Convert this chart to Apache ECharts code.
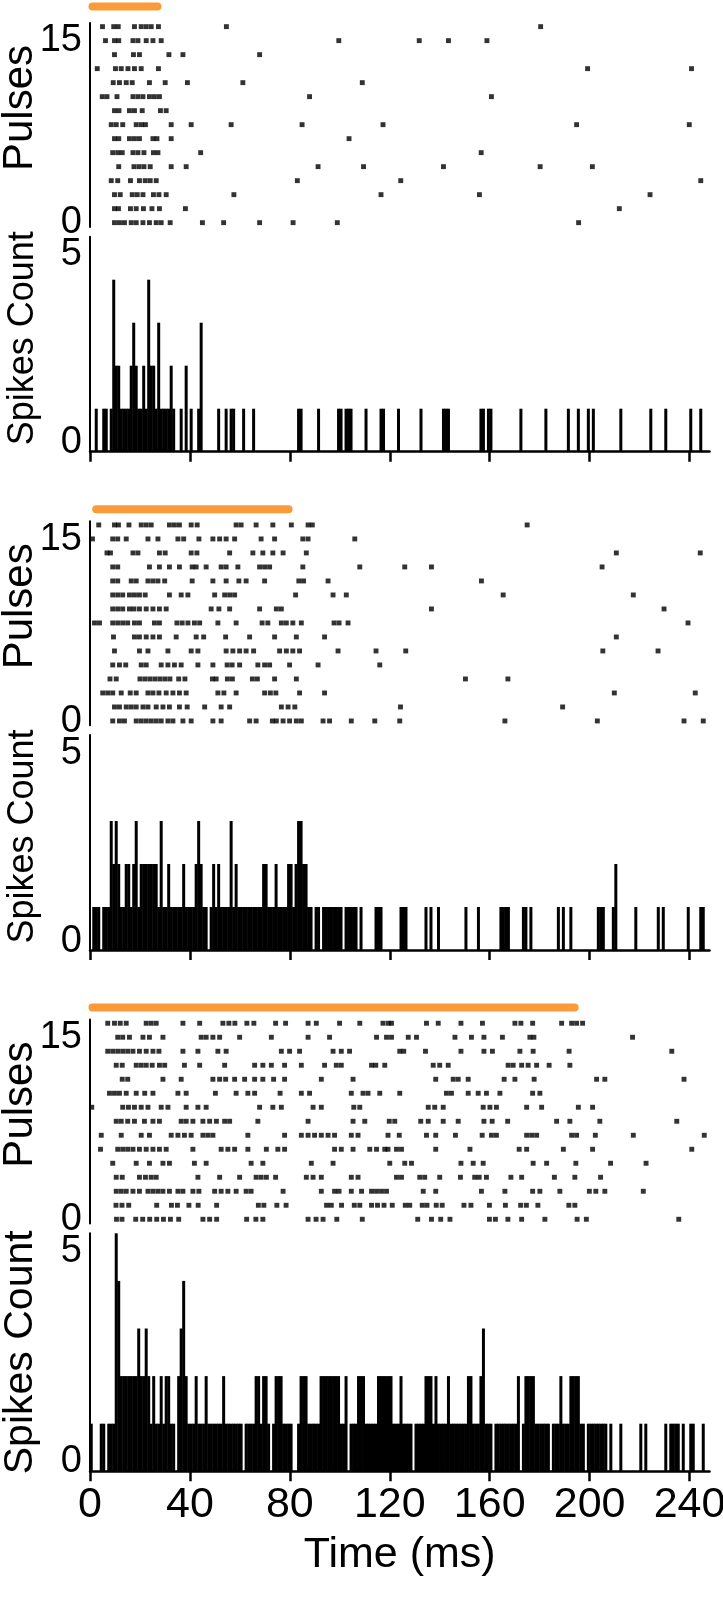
<!DOCTYPE html>
<html><head><meta charset="utf-8">
<script src="https://cdn.jsdelivr.net/npm/echarts@6/dist/echarts.min.js"></script>
<style>html,body{margin:0;padding:0;background:#fff}#c{width:723px;height:1599px}</style>
</head><body><div id="c"></div>
<script>
// ---- tick labels ----
const timeTicks = [0, 40, 80, 120, 160, 200, 240];
const pulseTicks = [0, 15];
const countTicks = [0, 5];

// ---- stimulus durations (ms) ----
const stim1 = [1, 27];
const stim2 = [2.5, 79.5];
const stim3 = [1, 194];

// ---- raster spike times (ms), row 0 = bottom pulse ----
const raster1 = [
  [9.8, 11.8, 13.8, 16.5, 18.5, 21.2, 23.8, 26.5, 28.5, 32.1, 45, 53.5, 67.9, 81.3, 99, 195.6],
  [9.8, 11.4, 16.2, 18.5, 21.4, 24.8, 27.8, 38.2, 211.9],
  [9.8, 12.1, 16.9, 18.9, 21.2, 25.4, 27.6, 30.5, 57.6, 116.5, 155.9, 224.2],
  [8.5, 11.1, 16.2, 19.8, 22.1, 24.1, 26.5, 83, 124.4, 244.5],
  [11.5, 17.6, 19.6, 21.6, 24.1, 32.5, 38.5, 91.3, 109.5, 141.5, 180.2, 201.1],
  [9.1, 11.1, 12.9, 17.2, 19.2, 21.6, 25.4, 27.2, 44.3, 156.6],
  [9.8, 11.5, 15.8, 17.8, 19.8, 25.2, 26.8, 32.5, 103.7],
  [8.5, 10.5, 13.1, 18.5, 20.5, 22.2, 32.5, 40.5, 56.5, 84.9, 117.3, 194.8, 239.9],
  [9.8, 11.6, 15.8, 17.8, 20.9, 28.2, 30.5],
  [4.9, 6.8, 10.8, 17.2, 19.2, 21.2, 23.8, 25.8, 27.8, 87.9, 160.7],
  [9.3, 11.8, 14.5, 16.9, 23.8, 30.1, 39, 61.2, 109],
  [2.9, 10.2, 12.5, 15.2, 17.8, 20.5, 27.4, 199.2, 240.8],
  [9.8, 17.4, 19.8, 31.6, 37.2, 67.9],
  [6.2, 9.8, 11.5, 17.2, 19.2, 22.5, 25.2, 28.5, 99.6, 131.8, 143.5, 158.9],
  [5, 9.5, 11.3, 17.8, 20.5, 22.5, 24.5, 27.4, 54.6, 180.4]
];
const raster2 = [
  [9.1, 11.8, 13.8, 18.5, 20.5, 22.5, 24.5, 26.5, 28.5, 31.2, 33.2, 37.2, 40.5, 49.2, 52.5, 63.9, 66.5, 73, 74.6, 77.3, 79.9, 82.6, 84.6, 93.3, 95.9, 104.6, 114, 124, 166.1, 203.1, 237.8, 245.5],
  [9.8, 11.8, 14.5, 16.5, 18.5, 21.2, 23.2, 26.5, 29.2, 31.8, 35.8, 38.9, 45.9, 52.5, 55.9, 76.6, 79.3, 82, 124.3, 189.2],
  [5.1, 7.1, 9.1, 12.5, 16.1, 18.5, 23.2, 25.2, 27.6, 30.5, 33.2, 35.8, 38.5, 51.2, 53.6, 58.5, 69.9, 72.2, 74.4, 83.9, 93.9, 209.9, 242.3],
  [8, 10.5, 20, 22, 24, 26, 28, 30, 32, 35.5, 38, 49, 50.5, 55, 57, 65, 67, 73.9, 82.6, 150.3, 167.3],
  [9.1, 11.8, 14.3, 20.5, 22.5, 28.5, 31.2, 33.8, 36.5, 43.2, 49.2, 54.9, 56.9, 59.9, 67.2, 69.9, 71.9, 79.9, 91.3, 116],
  [9.8, 19.8, 23.2, 31.2, 40.5, 43.2, 54.5, 57.2, 59.9, 62.5, 65.5, 75.9, 78.6, 81.2, 83.9, 99.3, 114.5, 126.4, 205.3, 227.4],
  [9.4, 17.8, 19.8, 22.5, 25.2, 27.8, 34.5, 42.5, 45.5, 54.3, 63.9, 73.9, 82.6, 93.9, 210.7],
  [1.8, 3.8, 9.1, 11.1, 13.1, 15.1, 17.8, 19.8, 25.8, 27.8, 34.8, 36.9, 39.2, 41.8, 43.9, 51.2, 58.5, 68.9, 71.2, 76.6, 78.6, 81.2, 84.6, 97.7, 99.7, 103.3, 239.4],
  [9.1, 11.1, 13.1, 15.8, 17.6, 19.8, 22.5, 25.2, 27.8, 30.5, 48.5, 51.6, 55.9, 67.9, 74.6, 76.6, 136.7, 229.8],
  [9.1, 11.1, 13.1, 15.8, 17.8, 19.8, 22.1, 31.8, 36.5, 39.2, 49.9, 53.9, 55.9, 57.9, 82.3, 97.3, 102.6, 165.4, 217.5],
  [9.1, 11.1, 16.5, 18.5, 23.2, 25.2, 27.2, 29.9, 40.9, 49.2, 54.5, 59.6, 62.5, 69.9, 83.6, 85.5, 95.3, 156.7],
  [9.1, 11.1, 23.8, 27.8, 31.8, 35.8, 40.9, 42.5, 46.5, 52.5, 54.5, 59.2, 67.9, 69.9, 71.9, 85.2, 108, 126, 136.7, 205],
  [6.8, 8.2, 17.2, 19.2, 27.8, 30.1, 40.5, 42.8, 55.9, 65.2, 69.2, 73.2, 77.3, 86.6, 210.7, 244.3],
  [1, 9.1, 11.1, 14.5, 23.2, 27.2, 35.2, 37.5, 43.6, 49.2, 51.9, 54.5, 57.9, 68.5, 73.9, 85.2, 87.3, 106],
  [3.5, 9.8, 11.4, 15.6, 20.5, 22.5, 24.5, 31.8, 33.8, 35.8, 40.5, 42.9, 58.5, 60.5, 66.5, 73.2, 80.6, 87.3, 89, 175]
];
const raster3 = [
  [10.6, 12.8, 18.3, 21.1, 23.9, 26.7, 29.4, 32.2, 35.5, 45.2, 47.9, 50.7, 62.7, 66.4, 69.2, 87.3, 90.5, 93.3, 98.8, 109, 131.2, 136.7, 140.4, 144.1, 159.9, 162.3, 167.3, 172.8, 182.1, 195, 198.7, 235.7],
  [10.4, 12.8, 15.5, 26.7, 32.6, 35, 39.6, 43.3, 50.7, 67.4, 69.6, 74.8, 78.5, 94.7, 96.6, 100.7, 105.8, 108, 112.7, 115.1, 117.7, 121, 126.2, 128, 133, 134.9, 138.6, 141, 149.7, 152.5, 159.9, 166.3, 172.4, 174.7, 179.3, 191.7, 194.1],
  [10.5, 12.5, 14.5, 17.2, 19.8, 23.2, 25.2, 27.2, 29.2, 31.8, 35.2, 37.2, 41.2, 43.6, 49.9, 52.5, 55.2, 58.5, 62.5, 64.5, 77.3, 92.6, 97.9, 99.7, 104.6, 108.7, 112.7, 114.7, 116.7, 118.7, 133.4, 138.4, 156.7, 166.1, 177.2, 180.1, 188.1, 199.9, 202.5, 206.1, 221.5],
  [10.5, 12.9, 19.8, 22.2, 24.5, 26.5, 43.2, 51.9, 59.9, 66.5, 68.5, 70.6, 74.3, 86.6, 89.3, 92.6, 104.6, 107.3, 122.7, 124.7, 132, 134, 140, 148.3, 154, 155.8, 158.7, 168.5, 172.8, 185.9, 194.1, 204.4],
  [9.1, 18.5, 23.8, 29.2, 31.8, 41.8, 46.5, 64.5, 69.2, 88.6, 97.3, 120, 126, 128.7, 148.5, 153.4, 157.4, 177.4, 182.8, 194.5, 208.4, 222.6],
  [4.2, 11.1, 13.1, 15.1, 17.2, 19.8, 22.5, 25.2, 27.8, 30.5, 41.2, 52.5, 55.2, 57.9, 63.2, 70.6, 75.2, 77.9, 97.9, 100.6, 105.3, 112, 114.7, 118, 119.3, 122.7, 124.7, 138.4, 152.1, 171.8, 174.8, 189.5, 201.2, 240.9],
  [4.5, 12.5, 20.5, 23.8, 32.5, 35.2, 37.8, 40.5, 45.2, 47.2, 49.2, 63.2, 77.9, 84.6, 87.3, 89.9, 92.6, 95.3, 97.9, 104.6, 107.3, 119.3, 123.8, 134.7, 138.4, 146.3, 157, 160.7, 162.7, 174.8, 176.8, 178.8, 192.8, 194.8, 202.3, 217.5, 245.9],
  [10.5, 12.5, 15.1, 17.8, 21.8, 25.2, 27.8, 36.5, 38.5, 41.2, 45.2, 47.9, 50.6, 53.9, 55.9, 67.2, 87.3, 105.3, 110, 119.8, 122, 132.4, 135.4, 141.4, 147.4, 157.7, 161, 167.2, 186.8, 192.1, 204.1, 234.9],
  [0.7, 13.1, 15.4, 17.8, 20.5, 23.2, 28.5, 31.2, 38.5, 43.2, 46.5, 67.9, 73.2, 76.6, 89.3, 92.6, 105.6, 108, 135.4, 138, 141.4, 157.4, 160.1, 162.7, 174.8, 180.8, 195.5, 201.2],
  [7.8, 9.8, 11.8, 14.5, 18.5, 21.9, 25.2, 35.2, 38.5, 50.2, 58.5, 63.2, 65.9, 76.1, 84.6, 87.9, 104.6, 109.3, 111.3, 116, 124, 142.7, 144.7, 151.4, 155.4, 158.7, 164.1, 177.2, 180.1],
  [12.9, 15.1, 29.2, 36.5, 49.2, 51.9, 54.3, 57.9, 61.9, 65.9, 69.2, 73.5, 77.9, 92.6, 105.3, 138.4, 145.4, 147.4, 151.4, 165.8, 170.1, 177.8, 202.8, 206.1, 237.8],
  [10.5, 12.9, 18.5, 20.5, 22.5, 24.9, 27.8, 29.9, 37.8, 43.9, 53.9, 65.9, 69.2, 72.6, 77.9, 84.6, 93.9, 98.6, 100.6, 112.7, 114.4, 118, 137.4, 140, 143.4, 167.4, 169.4, 172.8, 175.4, 178.8, 183.8, 192.1],
  [7.1, 9.1, 11.1, 13.1, 15.1, 17.2, 19.8, 22.5, 25.2, 27.6, 37.2, 43.2, 51.2, 54.5, 76.6, 79.9, 83.9, 97.3, 100.6, 103.9, 124, 125.6, 134.3, 148.5, 157.7, 161.1, 172.1, 177.4, 191.8, 232.9],
  [11.1, 13.1, 15.8, 21.2, 23.8, 29.2, 44.5, 46.5, 49.2, 51.9, 59.9, 72.6, 87.3, 95.9, 114.7, 118.7, 120.7, 127.4, 130.7, 146.1, 152.7, 157.7, 165.1, 176.1, 177.7, 217.2],
  [7.1, 9.8, 12.1, 14.5, 22.5, 24.5, 26.5, 37.2, 43.9, 53.2, 55.6, 58, 62.8, 65.6, 74.3, 78.3, 87.3, 90.6, 99.9, 108, 117.3, 119.4, 120.7, 134.7, 139.4, 148.5, 157.1, 170.1, 172.5, 177.2, 188.8, 192.8, 194.8, 197.2]
];

// ---- spike counts per 1 ms bin (bins 0..247) ----
const hist1 = [
  0,0,1,0,0,1,1,0,1,4, 2,2,1,1,1,1,2,3,2,1, 1,2,1,4,2,2,1,3,1,1, 1,1,2,1,0,0,1,0,2,0,
  1,0,0,1,3,0,0,0,0,0, 0,1,0,0,1,0,1,1,0,0, 0,1,0,0,0,1,0,0,0,0, 0,0,0,0,0,0,0,0,0,0,
  0,0,0,1,1,0,0,0,0,0, 0,1,0,0,0,0,0,0,0,1, 1,0,1,1,1,0,0,0,0,0, 1,0,0,0,0,0,1,1,0,0,
  0,0,0,1,0,0,0,0,0,0, 0,0,1,0,0,0,0,0,0,0, 0,1,1,1,0,0,0,0,0,0, 0,0,0,0,0,0,1,1,0,1,
  1,0,0,0,0,0,0,0,0,0, 0,0,1,0,0,0,0,0,0,0, 0,0,1,0,0,0,0,0,0,0, 0,1,0,0,0,1,0,0,0,1,
  0,1,0,0,0,0,0,0,0,0, 0,0,1,0,0,0,0,0,0,0, 0,0,0,0,1,0,0,0,0,0, 1,0,0,0,0,0,0,0,0,0,
  1,0,0,0,1,0,0,0
];
const hist2 = [
  0,1,1,1,0,1,1,1,3,2, 3,2,1,1,2,2,1,2,3,1, 2,2,2,2,2,2,2,1,3,1, 1,2,1,1,1,1,1,2,1,1,
  1,1,2,3,2,1,1,0,1,2, 1,2,1,1,1,1,3,1,2,1, 1,1,1,1,1,1,1,1,1,2, 2,1,1,1,2,1,1,1,1,2,
  2,1,2,3,3,2,2,1,1,0, 1,1,0,1,1,1,1,1,1,1, 1,0,1,1,1,1,1,0,1,0, 0,0,0,0,1,1,1,0,0,0,
  0,0,0,0,1,1,1,0,0,0, 0,0,0,0,1,0,1,0,0,1, 0,0,0,0,0,0,0,0,0,0, 1,0,0,0,0,1,0,0,0,0,
  0,0,0,0,1,1,1,1,0,0, 0,0,0,1,1,0,1,0,0,0, 0,0,0,0,0,0,0,1,0,1, 0,0,1,0,0,0,0,0,0,0,
  0,0,0,1,1,1,0,0,0,1, 2,0,0,0,0,0,0,0,1,0, 0,0,0,0,0,0,0,1,0,1, 0,0,0,0,0,0,0,0,0,1,
  0,0,0,0,1,1,0,0
];
const hist3 = [
  1,0,0,0,1,1,0,1,1,1, 5,4,2,2,2,2,2,2,2,3, 2,2,3,2,1,2,1,1,2,1, 2,2,1,1,0,2,3,4,2,1,
  1,1,2,1,1,1,2,1,1,1, 1,1,1,2,1,1,1,1,1,1, 1,0,1,1,1,1,2,2,1,2, 2,1,0,1,2,2,2,1,1,1,
  1,0,0,1,2,2,2,1,1,1, 1,1,2,2,2,2,2,2,2,2, 1,1,2,0,1,1,1,2,2,2, 1,1,1,1,1,2,2,2,2,2,
  2,1,1,1,2,1,1,1,1,0, 1,1,1,1,2,2,2,1,2,1, 1,1,1,2,1,1,1,1,1,1, 1,2,2,1,1,1,2,3,1,1,
  1,0,1,1,1,1,1,1,1,1, 1,2,0,1,2,2,2,2,1,1, 1,1,1,1,0,1,1,1,2,1, 1,1,2,2,2,2,1,1,0,1,
  1,1,1,1,1,1,1,0,1,0, 0,0,1,0,0,0,0,0,0,0, 1,0,1,0,0,0,0,0,0,0, 1,0,1,1,1,1,0,1,0,0,
  1,1,0,0,0,1,0,0
];

const FONT = "'Liberation Sans', Arial, Helvetica, sans-serif";
const ORANGE = '#f99b38';
const panels = [
  { raster: raster1, hist: hist1, stim: stim1, stimY: 15.43, top: 0,
    hTop: 236.7, hH: 215, lab: [-0.231, 5.487], nameFs: 36, namePad: 12 },
  { raster: raster2, hist: hist2, stim: stim2, stimY: 15.12, top: 498.3,
    hTop: 735, hH: 215, lab: [-0.231, 5.487], nameFs: 36, namePad: 12 },
  { raster: raster3, hist: hist3, stim: stim3, stimY: 15.12, top: 996.6,
    hTop: 1233.3, hH: 238, lab: [-0.238, 5.433], nameFs: 41, namePad: 0 }
];

const grid = [], xAxis = [], yAxis = [], series = [];
panels.forEach((p, i) => {
  const o = p.top;
  const last = i === panels.length - 1;
  const gR = grid.length;
  grid.push({ left: 90, right: 13.5, top: 23 + o, height: 204, containLabel: false, outerBoundsMode: 'none' });
  const gH = grid.length;
  grid.push({ left: 90, right: 13.5, top: p.hTop, height: p.hH, containLabel: false, outerBoundsMode: 'none' });

  const xR = xAxis.length;
  xAxis.push({ gridIndex: gR, type: 'value', min: 0, max: 248, show: false });
  const xH = xAxis.length;
  xAxis.push({
    gridIndex: gH, type: 'value', min: 0, max: 248, position: 'bottom',
    axisLine: { show: true, onZero: false, lineStyle: { color: '#000', width: 2.5 } },
    axisTick: { show: true, length: 10, customValues: timeTicks, lineStyle: { color: '#000', width: 2.5 } },
    axisLabel: { show: last, customValues: timeTicks, fontSize: 43, color: '#000', fontFamily: FONT, margin: 12 },
    splitLine: { show: false },
    name: last ? 'Time (ms)' : '', nameLocation: 'middle', nameGap: 62, nameMoveOverlap: false,
    nameTextStyle: { fontSize: 43, color: '#000', fontFamily: FONT }
  });

  const yR = yAxis.length;
  yAxis.push({ gridIndex: gR, type: 'value', position: 'left', min: -0.31, max: 14.26,
    axisLine: { show: true, onZero: false, lineStyle: { color: '#000', width: 2 } },
    axisTick: { show: false }, axisLabel: { show: false }, splitLine: { show: false } });
  yAxis.push({ gridIndex: gR, type: 'value', position: 'left', offset: 0, min: -0.33, max: 16.48,
    axisLine: { show: false, onZero: false }, axisTick: { show: false }, splitLine: { show: false },
    axisLabel: { customValues: pulseTicks, fontSize: 38, color: '#000', fontFamily: FONT, margin: 8 },
    name: 'Pulses', nameLocation: 'middle', nameGap: 49, nameMoveOverlap: false,
    nameTextStyle: { fontSize: 42, color: '#000', fontFamily: FONT, padding: [0, 0, 0, 34] } });
  const yH = yAxis.length;
  yAxis.push({ gridIndex: gH, type: 'value', position: 'left', min: 0, max: 5,
    axisLine: { show: true, onZero: false, lineStyle: { color: '#000', width: 2 } },
    axisTick: { show: false }, axisLabel: { show: false }, splitLine: { show: false } });
  yAxis.push({ gridIndex: gH, type: 'value', position: 'left', offset: 0, min: p.lab[0], max: p.lab[1],
    axisLine: { show: false, onZero: false }, axisTick: { show: false }, splitLine: { show: false },
    axisLabel: { customValues: countTicks, fontSize: 38, color: '#000', fontFamily: FONT, margin: 8 },
    name: 'Spikes Count', nameLocation: 'middle', nameGap: 49, nameMoveOverlap: false,
    nameTextStyle: { fontSize: p.nameFs, color: '#000', fontFamily: FONT, padding: [0, 0, 0, p.namePad] } });

  series.push({
    type: 'scatter', xAxisIndex: xR, yAxisIndex: yR, symbol: 'rect', symbolSize: 4.9,
    itemStyle: { color: '#000' }, silent: true,
    data: p.raster.flatMap((row, k) => row.map(t => [t, k]))
  });
  series.push({
    type: 'line', xAxisIndex: xR, yAxisIndex: yR, clip: false, symbol: 'none', silent: true,
    lineStyle: { color: ORANGE, width: 8, cap: 'round' },
    data: [[p.stim[0], p.stimY], [p.stim[1], p.stimY]]
  });
  series.push({
    type: 'bar', xAxisIndex: xH, yAxisIndex: yH, barWidth: 3, silent: true,
    itemStyle: { color: '#000' },
    data: p.hist.map((c, b) => [b + 0.5, c]).filter(d => d[1] > 0)
  });
});

const chart = echarts.init(document.getElementById('c'), null, { renderer: 'canvas' });
chart.setOption({ animation: false, backgroundColor: '#fff', grid, xAxis, yAxis, series });
</script>
</body></html>
